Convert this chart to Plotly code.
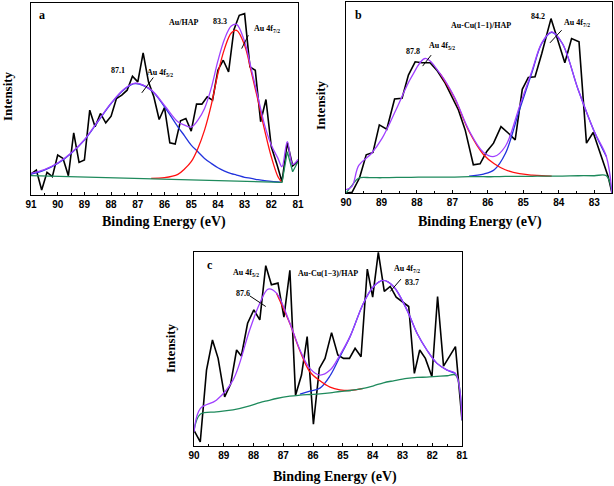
import plotly.graph_objects as go

# ---------------- Panel a : Au/HAP ----------------
E_a = [91.0, 90.8, 90.6, 90.4, 90.2, 90.0, 89.8, 89.6, 89.4, 89.2, 89.0, 88.8, 88.6, 88.4, 88.2,
       88.0, 87.8, 87.6, 87.4, 87.2, 87.0, 86.8, 86.6, 86.4, 86.2, 86.0, 85.8, 85.6, 85.4, 85.2,
       85.0, 84.8, 84.6, 84.4, 84.2, 84.0, 83.8, 83.6, 83.4, 83.2, 83.0, 82.8, 82.6, 82.4, 82.2,
       82.0, 81.8, 81.6, 81.4, 81.2, 81.0]
I_a = [63, 75, 15, 68, 55, 120, 110, 58, 187, 98, 105, 255, 205, 245, 217,
       237, 290, 300, 315, 357, 340, 427, 340, 295, 227, 263, 157, 153, 223, 230,
       192, 273, 273, 295, 285, 375, 405, 370, 497, 540, 545, 385, 375, 220, 287,
       145, 95, 40, 157, 88, 101]

FE_a = [91.0, 90.5, 90.0, 89.5, 89.0, 88.5, 88.0, 87.5, 87.1, 86.5, 86.0, 85.5, 85.25, 85.0, 84.75,
        84.5, 84.25, 84.0, 83.75, 83.5, 83.3, 83.0, 82.75, 82.5, 82.25, 82.0, 81.75, 81.6, 81.4, 81.2, 81.0]
base_a = [58, 57, 56, 55, 54, 53, 52, 51, 50, 49, 48, 47, 46, 46, 45,
          45, 44, 44, 43, 43, 42, 42, 41, 41, 40, 39, 39, 38, 130, 70, 100]
blue_a = [63, 75, 95, 125, 165, 220, 275, 318, 335, 315, 265, 205, 178, 150, 130,
          110, 95, 82, 72, 64, 60, 53, 50, 46, 43, 41, 39, 38, None, None, None]
red_a = [None, None, None, None, None, None, None, None, None, 50, 52, 62, 78, 100, 140,
         195, 270, 365, 440, 487, 495, 450, 370, 285, 195, 115, 55, 38, None, None, None]
env_a = [65, 76, 96, 126, 166, 221, 276, 319, 336, 316, 269, 220, 210, 204, 225,
         260, 321, 403, 469, 508, 513, 461, 379, 295, 210, 150, 110, 85, 160, 92, 107]

# ---------------- Panel b : Au-Cu(1-1)/HAP ----------------
E_b = [90.0, 89.83, 89.62, 89.43, 89.24, 89.06, 88.85, 88.63, 88.42, 88.24, 88.05, 87.86, 87.63,
       87.44, 87.20, 87.02, 86.83, 86.64, 86.41, 86.22, 86.03, 85.84, 85.63, 85.42, 85.23, 85.03,
       84.86, 84.67, 84.48, 84.22, 84.02, 83.83, 83.64, 83.43, 83.22, 83.03, 82.61, 82.50]
I_b = [0, 2, 45, 115, 122, 205, 192, 283, 285, 355, 395, 392, 392,
       370, 330, 290, 250, 190, 85, 88, 125, 150, 200, 180, 160, 312,
       348, 350, 420, 525, 455, 392, 465, 455, 150, 182, 50, 0]

FE_b = [90.0, 89.83, 89.64, 89.29, 88.98, 88.57, 88.16, 87.76, 87.35, 86.94, 86.53, 86.12, 85.82,
        85.51, 85.11, 84.75, 84.48, 84.2, 83.9, 83.45, 83.0, 82.66, 82.5]
base_b = [0, 23, 45, 46, 46, 47, 47, 48, 48, 48, 49, 49, 49,
          50, 50, 50, 51, 51, 51, 52, 52, 52, 0]
red_b = [None, None, None, None, None, None, None, None, 360, 286, 185, 115, 88,
         70, 58, 54, 52, 51, None, None, None, None, None]
blue_b = [None, None, None, None, None, None, None, None, None, None, 51, 57, 70,
          118, 250, 365, 450, 484, 450, 310, 185, 110, None]
env_b = [10, 20, 83, 118, 165, 255, 348, 405, 360, 288, 188, 122, 110,
         140, 260, 370, 452, 485, 450, 310, 185, 110, 0]

# ---------------- Panel c : Au-Cu(1-3)/HAP ----------------
E_c = [90.00, 89.79, 89.58, 89.38, 89.19, 88.97, 88.77, 88.57, 88.41, 88.20, 87.99, 87.79, 87.59,
       87.40, 87.18, 86.98, 86.78, 86.59, 86.39, 86.20, 85.99, 85.79, 85.60, 85.38, 85.17, 84.98,
       84.78, 84.59, 84.39, 84.18, 84.00, 83.81, 83.61, 83.41, 83.21, 83.02, 82.79, 82.60, 82.42,
       82.23, 82.01, 81.82, 81.62, 81.22, 81.00]
I_c = [47, 12, 227, 317, 262, 147, 185, 287, 269, 367, 407, 377, 539,
       482, 487, 385, 525, 152, 212, 327, 65, 232, 262, 339, 272, 262,
       262, 292, 267, 529, 445, 579, 462, 477, 445, 432, 417, 217, 287,
       262, 207, 447, 239, 297, 77]

FE_c = [90.0, 89.79, 89.25, 88.69, 88.13, 87.79, 87.51, 87.23, 86.78, 86.44, 86.11, 85.77, 85.43,
        85.10, 84.76, 84.31, 83.97, 83.64, 83.30, 82.85, 82.51, 82.18, 81.84, 81.50, 81.22, 81.0]
base_c = [47, 95, 102, 108, 120, 130, 136, 142, 149, 152, 154, 156, 159,
          163, 166, 172, 180, 189, 195, 202, 205, 206, 208, 210, 212, 77]
red_c = [None, None, None, None, None, None, None, 457, 366, 284, 222, 195, 176,
         168, 166, 172, None, None, None, None, None, None, None, None, None, None]
blue_c = [None, None, None, None, None, None, None, None, None, 155, 164, 173, 210,
          267, 327, 427, 477, 495, 477, 407, 337, 287, 247, 227, 217, None]
env_c = [42, 112, 137, 197, 347, 427, 469, 457, 367, 287, 232, 212, 227,
         272, 327, 427, 477, 495, 477, 407, 337, 287, 247, 227, 217, 77]

TICKS_A = [91, 90, 89, 88, 87, 86, 85, 84, 83, 82, 81]
TICKS_B = [90, 89, 88, 87, 86, 85, 84, 83]
TICKS_C = [90, 89, 88, 87, 86, 85, 84, 83, 82, 81]

BLACK = "#000000"
RED = "#FF1010"
BLUE = "#2233DD"
PURPLE = "#A040FF"
GREEN = "#1E8A5C"

fig = go.Figure()

panels = [
    ("x", "y", E_a, I_a, FE_a, base_a, blue_a, red_a, env_a, True),
    ("x2", "y2", E_b, I_b, FE_b, base_b, blue_b, red_b, env_b, False),
    ("x3", "y3", E_c, I_c, FE_c, base_c, blue_c, red_c, env_c, False),
]

for xa, ya, E, I, FE, base, blue, red, env, lin_base in panels:
    fig.add_trace(go.Scatter(x=E, y=I, mode="lines", line=dict(color=BLACK, width=1.6),
                             xaxis=xa, yaxis=ya, showlegend=False, hoverinfo="skip"))
    fig.add_trace(go.Scatter(x=FE, y=blue, mode="lines", line=dict(color=BLUE, width=1.3, shape="spline"),
                             xaxis=xa, yaxis=ya, showlegend=False, connectgaps=False, hoverinfo="skip"))
    fig.add_trace(go.Scatter(x=FE, y=red, mode="lines", line=dict(color=RED, width=1.3, shape="spline"),
                             xaxis=xa, yaxis=ya, showlegend=False, connectgaps=False, hoverinfo="skip"))
    fig.add_trace(go.Scatter(x=FE, y=base, mode="lines",
                             line=dict(color=GREEN, width=1.3, shape="linear" if lin_base else "spline"),
                             xaxis=xa, yaxis=ya, showlegend=False, hoverinfo="skip"))
    fig.add_trace(go.Scatter(x=FE, y=env, mode="lines", line=dict(color=PURPLE, width=1.3, shape="spline"),
                             xaxis=xa, yaxis=ya, showlegend=False, hoverinfo="skip"))

W, H = 614, 486

def dom_x(a, b):
    return [a / W, b / W]

def dom_y(top, bottom):
    return [1 - bottom / H, 1 - top / H]

tickfont = dict(family="Liberation Sans", size=10, color="black", weight="bold")
common_x = dict(showline=True, linecolor="black", linewidth=1.2, mirror=True, ticks="inside",
                ticklen=3, tickcolor="black", tickwidth=1, tickfont=tickfont, showgrid=False,
                zeroline=False,
                minor=dict(dtick=0.5, ticks="inside", ticklen=2, tickcolor="black", showgrid=False))
common_y = dict(showline=True, linecolor="black", linewidth=1.2, mirror=True, ticks="",
                showticklabels=False, showgrid=False, zeroline=False)

fig.update_layout(
    width=W, height=H, margin=dict(l=0, r=0, t=0, b=0, autoexpand=False),
    paper_bgcolor="white", plot_bgcolor="white",
    xaxis=dict(domain=dom_x(31, 298), range=[91, 81], tickvals=TICKS_A, anchor="y", **common_x),
    yaxis=dict(domain=dom_y(3, 195), range=[0, 577], anchor="x", **common_y),
    xaxis2=dict(domain=dom_x(346, 612), range=[90, 82.5], tickvals=TICKS_B, anchor="y2", **common_x),
    yaxis2=dict(domain=dom_y(2, 193), range=[0, 575], anchor="x2", **common_y),
    xaxis3=dict(domain=dom_x(194, 462), range=[90, 81], tickvals=TICKS_C, anchor="y3", **common_x),
    yaxis3=dict(domain=dom_y(252, 446), range=[0, 580], anchor="x3", **common_y),
)

serif_b = dict(family="Liberation Serif", size=8, color="black", weight="bold")
letter_f = dict(family="Liberation Serif", size=12, color="black", weight="bold")
title_f = dict(family="Liberation Serif", size=14, color="black", weight="bold")

ann = []
def txt(x, y, t, xref, yref, font=serif_b, xanchor="center"):
    ann.append(dict(x=x, y=y, xref=xref, yref=yref, text=t, showarrow=False, font=font,
                    xanchor=xanchor, yanchor="middle"))

# panel a texts
txt(90.78, 540, "a", "x", "y", letter_f, "left")
txt(85.30, 517, "Au/HAP", "x", "y")
txt(83.92, 520, "83.3", "x", "y")
txt(82.17, 500, "Au 4f<sub>7/2</sub>", "x", "y")
txt(87.73, 373, "87.1", "x", "y")
txt(86.17, 367, "Au 4f<sub>5/2</sub>", "x", "y")
# panel b texts
txt(89.79, 535, "b", "x2", "y2", letter_f, "left")
txt(86.19, 505, "Au-Cu(1−1)/HAP", "x2", "y2")
txt(84.58, 532, "84.2", "x2", "y2")
txt(83.50, 512, "Au 4f<sub>7/2</sub>", "x2", "y2")
txt(88.10, 425, "87.8", "x2", "y2")
txt(87.30, 442, "Au 4f<sub>5/2</sub>", "x2", "y2")
# panel c texts
txt(89.62, 542, "c", "x3", "y3", letter_f, "left")
txt(88.24, 517, "Au 4f<sub>5/2</sub>", "x3", "y3")
txt(88.37, 457, "87.6", "x3", "y3")
txt(85.49, 517, "Au-Cu(1−3)/HAP", "x3", "y3")
txt(82.85, 529, "Au 4f<sub>7/2</sub>", "x3", "y3")
txt(82.68, 489, "83.7", "x3", "y3")

# axis titles
for (px, py) in [(164, 222), (480, 222), (335, 477)]:
    ann.append(dict(x=px / W, y=1 - py / H, xref="paper", yref="paper", text="Binding Energy (eV)",
                    showarrow=False, font=title_f, xanchor="center", yanchor="middle"))
for (px, py) in [(7, 96), (321, 105), (170, 348)]:
    ann.append(dict(x=px / W, y=1 - py / H, xref="paper", yref="paper", text="Intensity",
                    showarrow=False, font=dict(family="Liberation Serif", size=13, color="black", weight="bold"),
                    textangle=-90, xanchor="center", yanchor="middle"))

fig.update_layout(annotations=ann, hovermode=False)

# pointer lines
shapes = []
def seg(x0, y0, x1, y1, xr, yr):
    shapes.append(dict(type="line", x0=x0, y0=y0, x1=x1, y1=y1, xref=xr, yref=yr,
                       line=dict(color="black", width=1)))

seg(83.11, 440, 82.86, 480, "x", "y")
seg(86.85, 307, 86.42, 353, "x", "y")
seg(84.25, 452, 83.92, 490, "x2", "y2")
seg(87.84, 382, 87.60, 415, "x2", "y2")
seg(88.13, 449, 87.59, 417, "x3", "y3")
seg(83.41, 462, 83.05, 499, "x3", "y3")
fig.update_layout(shapes=shapes)

fig.write_html("out.html", config={"displayModeBar": False},
               post_script="document.body.style.margin='0';document.body.style.padding='0';")
